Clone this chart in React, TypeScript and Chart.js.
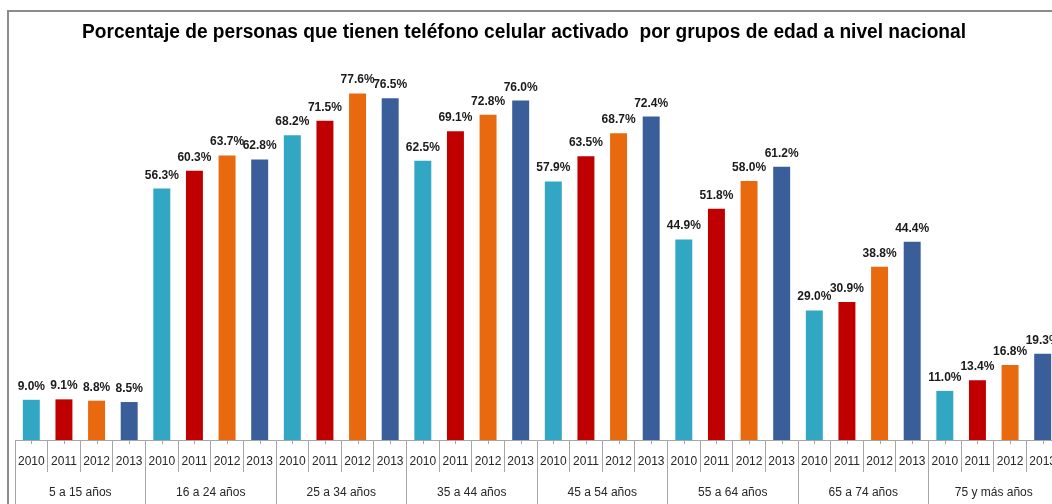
import React, { useEffect, useRef } from 'react';
import { Chart, registerables } from 'chart.js';

Chart.register(...registerables);

const titleText =
  'Porcentaje de personas que tienen teléfono celular activado  por grupos de edad a nivel nacional';

const groups = [
  '5 a 15 años',
  '16 a 24 años',
  '25 a 34 años',
  '35 a 44 años',
  '45 a 54 años',
  '55 a 64 años',
  '65 a 74 años',
  '75 y más años',
];

const years = ['2010', '2011', '2012', '2013'];

const values2010 = [9.0, 56.3, 68.2, 62.5, 57.9, 44.9, 29.0, 11.0];
const values2011 = [9.1, 60.3, 71.5, 69.1, 63.5, 51.8, 30.9, 13.4];
const values2012 = [8.8, 63.7, 77.6, 72.8, 68.7, 58.0, 38.8, 16.8];
const values2013 = [8.5, 62.8, 76.5, 76.0, 72.4, 61.2, 44.4, 19.3];

const seriesColors = ['#31a7c4', '#c00000', '#e9690f', '#395e9a'];

const AXIS_GRAY = '#a6a6a6';
const TEXT_DARK = '#262626';

export default function App() {
  const ref = useRef<HTMLCanvasElement>(null);

  useEffect(() => {
    const canvas = ref.current;
    if (!canvas) return;
    const series = [values2010, values2011, values2012, values2013];
    const yearLabels = groups.flatMap(() => years);

    const titlePlugin = {
      id: 'titlePlugin',
      afterDraw(chart: any) {
        const ctx = chart.ctx;
        ctx.save();
        ctx.font = 'bold 20px "Liberation Sans", Arial, sans-serif';
        const w = ctx.measureText(titleText).width;
        ctx.translate(524, 38);
        ctx.scale(884 / w, 1);
        ctx.textAlign = 'center';
        ctx.textBaseline = 'alphabetic';
        ctx.fillStyle = '#000000';
        ctx.fillText(titleText, 0, 0);
        ctx.restore();
      },
    };

    const valueLabels = {
      id: 'valueLabels',
      afterDatasetsDraw(chart: any) {
        const ctx = chart.ctx;
        ctx.save();
        ctx.font = 'bold 12px "Liberation Sans", Arial, sans-serif';
        ctx.textAlign = 'center';
        ctx.textBaseline = 'alphabetic';
        ctx.fillStyle = '#1a1a1a';
        chart.data.datasets.forEach((ds: any, di: number) => {
          const meta = chart.getDatasetMeta(di);
          meta.data.forEach((bar: any, i: number) => {
            const v = ds.data[i];
            ctx.fillText(v.toFixed(1) + '%', bar.x, bar.y - 10);
          });
        });
        ctx.restore();
      },
    };

    const centerTicks = {
      id: 'centerTicks',
      afterDraw(chart: any) {
        const scale = chart.scales.xYears;
        const ctx = chart.ctx;
        ctx.save();
        ctx.strokeStyle = AXIS_GRAY;
        ctx.lineWidth = 1;
        ctx.beginPath();
        scale.ticks.forEach((_t: any, i: number) => {
          const x = Math.round(scale.getPixelForTick(i)) + 0.5;
          ctx.moveTo(x, scale.top);
          ctx.lineTo(x, scale.top + 4);
        });
        ctx.stroke();
        ctx.restore();
      },
    };

    const chart = new Chart(canvas, {
      type: 'bar',
      data: {
        labels: groups,
        datasets: years.map((y, i) => ({
          label: y,
          data: series[i],
          backgroundColor: seriesColors[i],
          categoryPercentage: 1,
          barPercentage: 0.52,
          xAxisID: 'x',
          yAxisID: 'y',
        })),
      },
      options: {
        responsive: false,
        animation: false,
        devicePixelRatio: 1,
        layout: { padding: { left: 15, right: 1, top: 38, bottom: 0 } },
        plugins: {
          legend: { display: false },
          title: { display: false },
          tooltip: { enabled: false },
        },
        scales: {
          x: { type: 'category', display: false, offset: true },
          xYears: {
            type: 'category',
            labels: yearLabels,
            position: 'bottom',
            weight: 1,
            offset: true,
            grid: {
              offset: true,
              drawOnChartArea: false,
              tickLength: 32,
              color: AXIS_GRAY,
              lineWidth: 1,
            },
            border: { display: true, color: AXIS_GRAY, width: 1 },
            ticks: {
              autoSkip: false,
              maxRotation: 0,
              minRotation: 0,
              padding: -18,
              color: TEXT_DARK,
              font: { family: '"Liberation Sans", Arial, sans-serif', size: 12 },
            },
            afterFit: (s: any) => {
              s.height = 32;
            },
          },
          xGroups: {
            type: 'category',
            labels: groups,
            position: 'bottom',
            weight: 2,
            offset: true,
            grid: {
              offset: true,
              drawOnChartArea: false,
              tickLength: 34,
              color: AXIS_GRAY,
              lineWidth: 1,
            },
            border: { display: false },
            ticks: {
              autoSkip: false,
              maxRotation: 0,
              minRotation: 0,
              padding: -21,
              color: TEXT_DARK,
              font: { family: '"Liberation Sans", Arial, sans-serif', size: 12 },
            },
            afterFit: (s: any) => {
              s.height = 32;
            },
          },
          y: { display: false, min: 0, max: 90 },
        },
      } as any,
      plugins: [titlePlugin, valueLabels, centerTicks],
    });
    return () => chart.destroy();
  }, []);

  return (
    <div
      style={{
        position: 'fixed',
        left: 0,
        top: 0,
        width: 1052,
        height: 504,
        overflow: 'hidden',
        background: '#ffffff',
      }}
    >
      <div
        style={{
          position: 'absolute',
          left: 7,
          top: 10,
          right: -20,
          bottom: -20,
          borderLeft: '2px solid #8c8c8c',
          borderTop: '2px solid #8c8c8c',
        }}
      />
      <canvas
        ref={ref}
        width={1060}
        height={504}
        style={{ position: 'absolute', left: 0, top: 0, width: 1060, height: 504 }}
      />
    </div>
  );
}
